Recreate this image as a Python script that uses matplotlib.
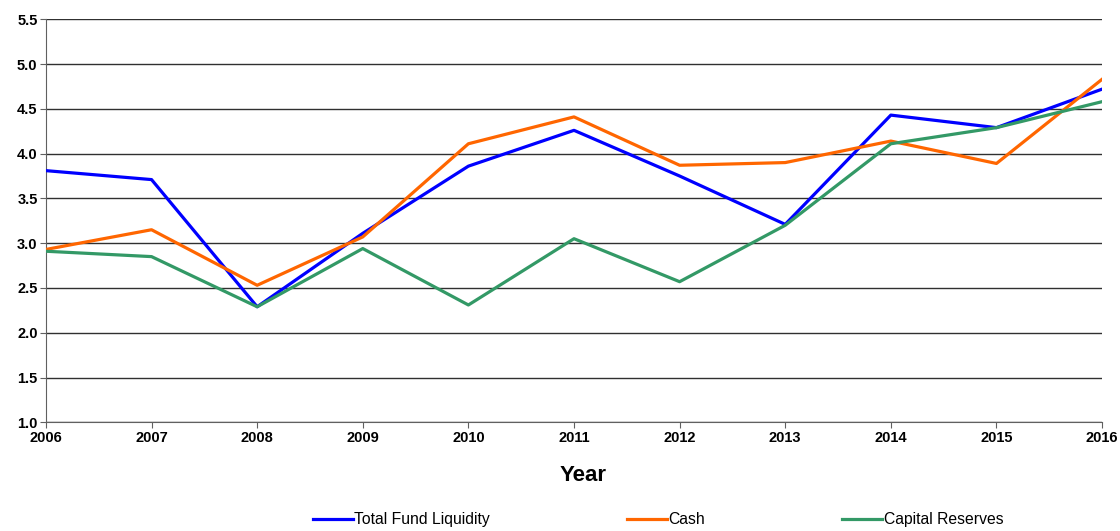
import matplotlib
matplotlib.use('Agg')
import matplotlib.pyplot as plt

years = [2006, 2007, 2008, 2009, 2010, 2011, 2012, 2013, 2014, 2015, 2016]
total_fund = [3.81, 3.71, 2.29, 3.11, 3.86, 4.26, 3.75, 3.21, 4.43, 4.29, 4.72]
cash = [2.93, 3.15, 2.53, 3.07, 4.11, 4.41, 3.87, 3.90, 4.14, 3.89, 4.83]
capital_reserves = [2.91, 2.85, 2.29, 2.94, 2.31, 3.05, 2.57, 3.20, 4.11, 4.29, 4.58]
y_ticks = [1.0, 1.5, 2.0, 2.5, 3.0, 3.5, 4.0, 4.5, 5.0, 5.5]

plt.rcParams['font.family'] = ['Liberation Sans', 'DejaVu Sans']

fig = plt.figure(figsize=(11.2, 5.31), dpi=100)
ax = fig.add_axes([0.041, 0.2047, 0.943, 0.759])

ax.plot(years, total_fund, color='#0000FF', lw=2.3, label='Total Fund Liquidity', zorder=3)
ax.plot(years, cash, color='#FF6600', lw=2.3, label='Cash', zorder=3)
ax.plot(years, capital_reserves, color='#339966', lw=2.3, label='Capital Reserves', zorder=3)

ax.set_xlim(2006, 2016)
ax.set_ylim(1.0, 5.5)
ax.set_xticks(years)
ax.set_xticklabels([str(y) for y in years], fontweight='bold', fontsize=10.5)
ax.set_yticks(y_ticks)
ax.set_yticklabels(['%.1f' % v for v in y_ticks], fontweight='bold', fontsize=10.5)
ax.grid(axis='y', color='#303030', lw=1)
ax.set_axisbelow(True)
for s in ['top', 'right']:
    ax.spines[s].set_visible(False)
for s in ['left', 'bottom']:
    ax.spines[s].set_color('#606060')
ax.tick_params(axis='both', length=4, color='#606060', pad=2)

fig.text(0.5205, 0.104, 'Year', ha='center', va='center', fontsize=16, fontweight='bold')

fig.legend(loc='center', bbox_to_anchor=(0.5875, 0.021), ncol=3, frameon=False,
           fontsize=11.3, handlelength=2.55, handletextpad=0.12, columnspacing=8.7)

fig.savefig('out.png', dpi=100)
